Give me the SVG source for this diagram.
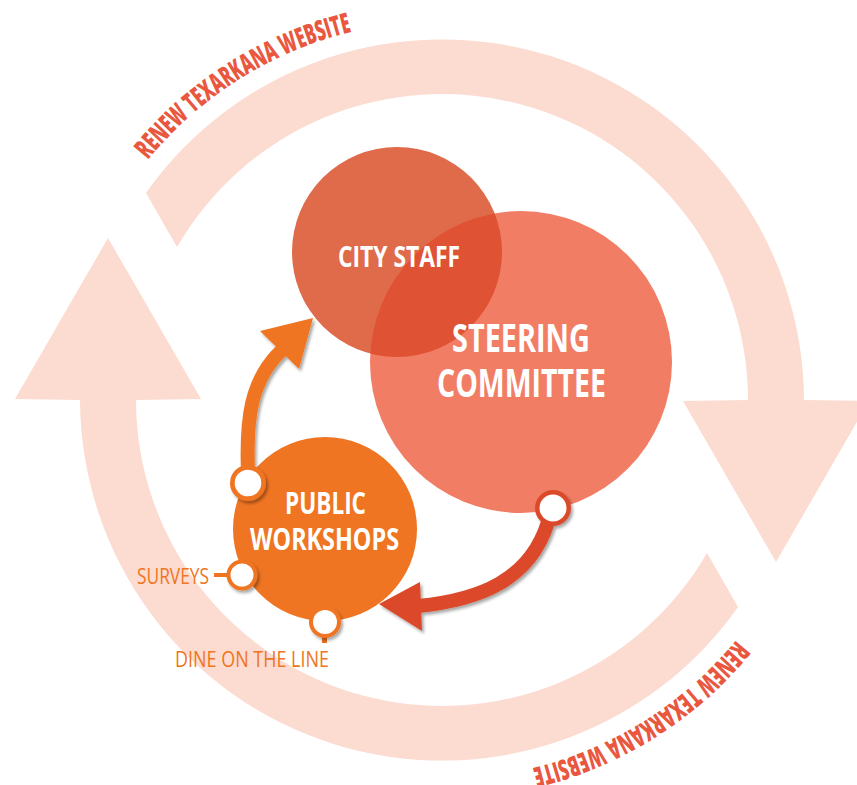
<svg xmlns="http://www.w3.org/2000/svg" width="857" height="785" viewBox="0 0 857 785">
<style>
.ring{fill:#FCDBD0}
.arctext{font-family:'Open Sans','Liberation Sans',sans-serif;font-weight:800;font-size:28px;fill:#E9573F}
.label{font-family:'Open Sans','Liberation Sans',sans-serif;font-weight:700;fill:#FFFFFF;text-anchor:middle}
.small{font-family:'Open Sans','Liberation Sans',sans-serif;font-weight:400;font-size:22px;fill:#EF7522}
.dotin{fill:#FFFFFF}
</style>
<defs>
<filter id="sh" x="-20%" y="-20%" width="150%" height="150%">
<feDropShadow dx="2" dy="2.5" stdDeviation="1.5" flood-color="#000" flood-opacity="0.35"/>
</filter>
<path id="tp" d="M147.9,160.1 A379,379 0 0 1 409,22.4"/>
<clipPath id="clipSteer"><circle cx="521" cy="362" r="151"/></clipPath>
<path id="bigArrow" d="M146,193 A362,362 0 0 1 804,400 L869,401 L776,562 L683,401 L748,400 A306,306 0 0 0 177,247 Z"/>
</defs>

<g id="cycle-ring">
<use href="#bigArrow" class="ring"/>
<use href="#bigArrow" class="ring" transform="rotate(180 442 400)"/>
</g>

<g id="website-label-top">
<text class="arctext"><textPath href="#tp" textLength="245" lengthAdjust="spacingAndGlyphs">RENEW TEXARKANA WEBSITE</textPath></text>
</g>
<g id="website-label-bottom" transform="rotate(180 442 400)">
<text class="arctext"><textPath href="#tp" textLength="245" lengthAdjust="spacingAndGlyphs">RENEW TEXARKANA WEBSITE</textPath></text>
</g>

<g id="city-staff">
<circle cx="397" cy="252" r="105" fill="#DF6B4A"/>
</g>
<g id="steering-committee">
<circle cx="521" cy="362" r="151" fill="#F27D65"/>
<circle cx="397" cy="252" r="105" fill="#DF5233" clip-path="url(#clipSteer)"/>
<text class="label" x="521" y="352" font-size="40" textLength="138" lengthAdjust="spacingAndGlyphs">STEERING</text>
<text class="label" x="521.5" y="397" font-size="40" textLength="169" lengthAdjust="spacingAndGlyphs">COMMITTEE</text>
</g>
<g id="city-staff-label">
<text class="label" x="399" y="267" font-size="28" textLength="122" lengthAdjust="spacingAndGlyphs">CITY STAFF</text>
</g>

<g id="public-workshops">
<circle cx="325" cy="529" r="92" fill="#EF7522"/>
<text class="label" x="325.5" y="514" font-size="31" textLength="81" lengthAdjust="spacingAndGlyphs">PUBLIC</text>
<text class="label" x="324.5" y="550" font-size="31" textLength="149" lengthAdjust="spacingAndGlyphs">WORKSHOPS</text>
</g>

<g id="connectors">
<g filter="url(#sh)">
<path d="M248,472 C246,420 250,380 282,350" fill="none" stroke="#EF7522" stroke-width="14"/>
<polygon points="313,318 260,331 299,369" fill="#EF7522"/>
<circle cx="248" cy="483" r="18" fill="#EF7522"/>
</g>
<circle class="dotin" cx="248" cy="483" r="13.3"/>
<g filter="url(#sh)">
<path d="M548,522 C530,580 480,600 418,606" fill="none" stroke="#DB4A2B" stroke-width="14"/>
<polygon points="379,604 420,582 422,631" fill="#DB4A2B"/>
<circle cx="553" cy="508" r="18" fill="#DB4A2B"/>
</g>
<circle class="dotin" cx="553" cy="508" r="13.5"/>
</g>

<g id="surveys">
<rect x="214" y="573" width="16" height="4" fill="#EF7522"/>
<circle cx="242" cy="575" r="15.5" fill="#EF7522" filter="url(#sh)"/>
<circle class="dotin" cx="242" cy="575" r="11.5"/>
<text class="small" x="137" y="584" textLength="72" lengthAdjust="spacingAndGlyphs">SURVEYS</text>
</g>

<g id="dine-on-the-line">
<rect x="322" y="632" width="5" height="11" fill="#EF7522"/>
<circle cx="325" cy="622" r="16" fill="#EF7522" filter="url(#sh)"/>
<circle class="dotin" cx="325" cy="622" r="12"/>
<text class="small" x="175" y="667" textLength="154" lengthAdjust="spacingAndGlyphs">DINE ON THE LINE</text>
</g>
</svg>
